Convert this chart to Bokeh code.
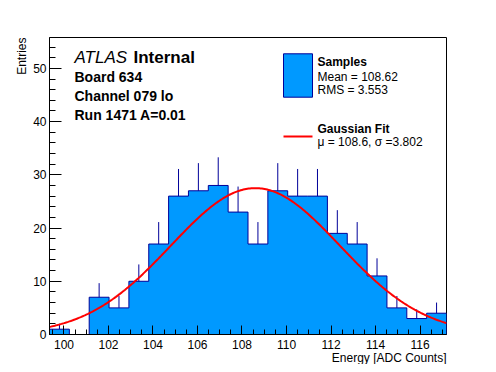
import numpy as np
from bokeh.plotting import figure
from bokeh.models import Range1d, SingleIntervalTicker, Label, Title
from bokeh.embed import file_html
from bokeh.resources import INLINE

# ---------------- data ----------------
hist_lo, hist_hi, n_bins = 99.35, 117.19, 20
counts = [1, 0, 7, 5, 10, 17, 26, 27, 28, 23, 17, 27, 26, 26, 19, 17, 11, 5, 3, 4]
fit_mu, fit_sigma, fit_amp = 108.6, 3.802, 27.5
x_ticks_major = [100, 102, 104, 106, 108, 110, 112, 114, 116]
y_ticks_major = [0, 10, 20, 30, 40, 50]
mean_txt, rms_txt = "108.62", "3.553"

# ---------------- geometry helpers (page pixels -> data) ----------------
Y_MAX = 55.8
FL, FR, FT, FB = 49.0, 446.0, 37.0, 334.0
def dx(px):
    return hist_lo + (px - FL) * (hist_hi - hist_lo) / (FR - FL)
def dy(py):
    return (FB - py) * Y_MAX / (FB - FT)

FONT = "Liberation Sans"
FILL = "#0099FF"
EDGE = "#000099"

p = figure(frame_width=397, frame_height=297, output_backend="svg", toolbar_location=None,
           x_range=Range1d(hist_lo, hist_hi), y_range=Range1d(0, Y_MAX),
           min_border_left=49, min_border_right=42, min_border_top=37, min_border_bottom=30)
p.grid.visible = False
p.background_fill_color = "white"
p.border_fill_color = "white"
p.outline_line_color = "black"
p.outline_line_width = 1

# histogram (step outline with fill)
edges = np.linspace(hist_lo, hist_hi, n_bins + 1)
xs = [edges[0]]
ys = [0]
for i, c in enumerate(counts):
    xs += [edges[i], edges[i + 1]]
    ys += [c, c]
xs.append(edges[-1]); ys.append(0)
p.patch(xs, ys, fill_color=FILL, line_color=EDGE, line_width=1)

# error bars (upper part visible)
centers = 0.5 * (edges[:-1] + edges[1:])
cnt = np.array(counts, dtype=float)
p.segment(x0=centers, y0=cnt, x1=centers, y1=cnt + np.sqrt(cnt), line_color=EDGE, line_width=1)

# gaussian fit
xf = np.linspace(hist_lo, hist_hi, 300)
yf = fit_amp * np.exp(-0.5 * ((xf - fit_mu) / fit_sigma) ** 2)
p.line(xf, yf, line_color="red", line_width=2)

# axes
p.xaxis.ticker = SingleIntervalTicker(interval=2, num_minor_ticks=4)
p.yaxis.ticker = SingleIntervalTicker(interval=10, num_minor_ticks=5)
for ax in (p.xaxis[0], p.yaxis[0]):
    ax.axis_line_color = "black"
    ax.major_tick_line_color = "black"
    ax.minor_tick_line_color = "black"
    ax.major_tick_out = 0
    ax.minor_tick_out = 0
    ax.major_label_text_font = FONT
    ax.major_label_text_font_size = "12px"
    ax.major_label_text_color = "black"
p.xaxis.major_tick_in = 9
p.xaxis.minor_tick_in = 5
p.yaxis.major_tick_in = 12
p.yaxis.minor_tick_in = 6
p.xaxis.major_label_standoff = 5
p.yaxis.major_label_standoff = 3

# axis titles, right-aligned (ROOT style) via side titles
p.add_layout(Title(text="Energy [ADC Counts]", align="right", standoff=-5,
                   text_font=FONT, text_font_size="12px", text_font_style="normal",
                   text_color="black"), "below")
p.add_layout(Title(text="Entries", align="right", standoff=3,
                   text_font=FONT, text_font_size="12px", text_font_style="normal",
                   text_color="black"), "left")

def lab(px, py, text, size="12px", style="normal", align="left"):
    p.add_layout(Label(x=dx(px), y=dy(py), text=text, text_font=FONT, text_font_size=size,
                       text_font_style=style, text_align=align, text_baseline="middle",
                       text_color="black"))

# ATLAS block
lab(74, 57, "ATLAS", size="17px", style="italic")
lab(133, 57, "Internal", size="17px", style="bold")
lab(74, 76, "Board 634", size="14px", style="bold")
lab(74, 95.5, "Channel 079 lo", size="14px", style="bold")
lab(74, 114.5, "Run 1471 A=0.01", size="14px", style="bold")

# legend
p.quad(left=[dx(283)], right=[dx(312)], bottom=[dy(96.7)], top=[dy(53.3)],
       fill_color=FILL, line_color=EDGE, line_width=1)
p.line([dx(283), dx(312)], [dy(136), dy(136)], line_color="red", line_width=2)
lab(317, 61.5, "Samples", style="bold")
lab(317, 76.5, "Mean = " + mean_txt)
lab(317, 89.5, "RMS = " + rms_txt)
lab(317, 128.5, "Gaussian Fit", style="bold")
lab(317, 141.5, "\u03bc = %.1f, \u03c3 =%.3f" % (fit_mu, fit_sigma))

open("out.html", "w").write(file_html(p, INLINE))
